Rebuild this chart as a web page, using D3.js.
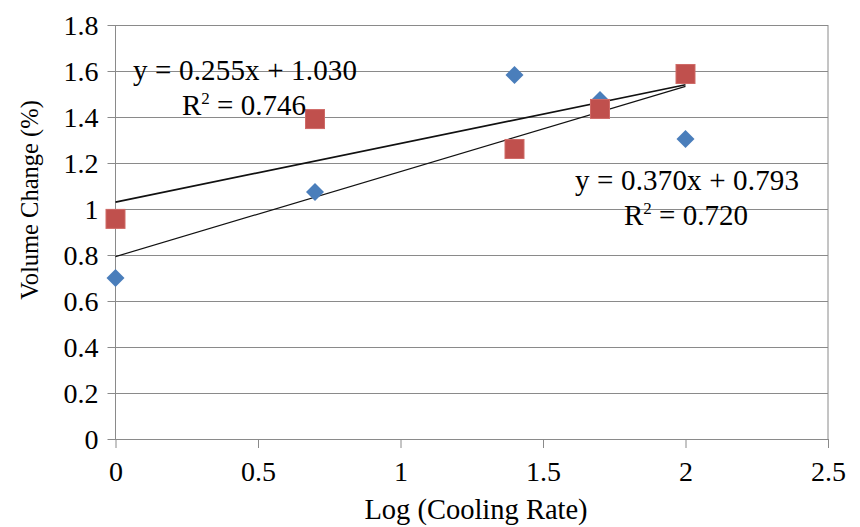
<!DOCTYPE html>
<html><head><meta charset="utf-8">
<script src="https://cdn.jsdelivr.net/npm/d3@7"></script>
<style>body{margin:0;background:#fff}svg{display:block}text{font-family:"Liberation Serif","Times New Roman",serif;fill:#000}</style>
</head><body><svg id="c" width="860" height="527" font-family="Liberation Serif, Times New Roman, serif"></svg>
<script>
const xValues = [0, 0.7, 1.4, 1.7, 2.0];
const blueValues = [0.70, 1.074, 1.583, 1.474, 1.304];
const redValues = [0.957, 1.391, 1.261, 1.435, 1.587];
const blueTrend = {slope: 0.370, intercept: 0.793, label1: "y = 0.370x + 0.793", label2: "= 0.720"};
const redTrend = {slope: 0.255, intercept: 1.030, label1: "y = 0.255x + 1.030", label2: "= 0.746"};
const xTicks = [0, 0.5, 1, 1.5, 2, 2.5];
const yTicks = [0, 0.2, 0.4, 0.6, 0.8, 1, 1.2, 1.4, 1.6, 1.8];

const svg = d3.select("#c");
const L = 115.5, R = 828, T = 25, B = 439;
const x = d3.scaleLinear().domain([0, 2.5]).range([L, R]);
const y = d3.scaleLinear().domain([0, 1.8]).range([B, T]);
const grid = "#8a8a8a";
const serif = "Liberation Serif, Times New Roman, serif";

// horizontal gridlines + y ticks
const yAxis = d3.axisLeft(y).tickValues(yTicks).tickSize(-(R - L)).tickSizeOuter(0)
  .tickFormat(d => String(+d.toFixed(1)));
const gy = svg.append("g").attr("transform", `translate(${L},0)`).call(yAxis).attr("font-family", serif);
gy.select(".domain").remove();
gy.selectAll(".tick line").attr("stroke", grid).attr("x1", -8);
gy.selectAll(".tick text").attr("x", -17).attr("font-size", 28).attr("dy", "0.34em");

// x axis
const xAxis = d3.axisBottom(x).tickValues(xTicks).tickSize(9).tickSizeOuter(0).tickFormat(d => String(d));
const gx = svg.append("g").attr("transform", `translate(0,${B})`).call(xAxis).attr("font-family", serif);
gx.select(".domain").attr("stroke", grid);
gx.selectAll(".tick line").attr("stroke", grid);
gx.selectAll(".tick text").attr("y", 42).attr("dy", 0).attr("font-size", 28);

// vertical axis line and right border
svg.append("line").attr("x1", L).attr("x2", L).attr("y1", T).attr("y2", B).attr("stroke", grid);
svg.append("line").attr("x1", R).attr("x2", R).attr("y1", T).attr("y2", B).attr("stroke", grid);

// trendlines
const xr = d3.extent(xValues);
[[redTrend, 1.6], [blueTrend, 1.2]].forEach(([t, w]) => {
  svg.append("line")
    .attr("x1", x(xr[0])).attr("y1", y(t.intercept + t.slope * xr[0]))
    .attr("x2", x(xr[1])).attr("y2", y(t.intercept + t.slope * xr[1]))
    .attr("stroke", "#111").attr("stroke-width", w);
});

// blue diamonds
const dia = "M0,-9L9,0L0,9L-9,0Z";
svg.append("g").selectAll("path").data(xValues).join("path")
  .attr("d", dia)
  .attr("transform", (d, i) => `translate(${x(d)},${y(blueValues[i])})`)
  .attr("fill", "#4a7ebb");
// red squares
svg.append("g").selectAll("rect").data(xValues).join("rect")
  .attr("x", d => x(d) - 9.5).attr("width", 19)
  .attr("y", (d, i) => y(redValues[i]) - 9.5).attr("height", 19)
  .attr("fill", "#c0504d").attr("stroke", "#cf6a67").attr("stroke-width", 1);

// equation labels
function eq(t, x1, yb1, x2, yb2) {
  svg.append("text").attr("x", x1).attr("y", yb1).attr("font-size", 29)
    .attr("textLength", 224).attr("lengthAdjust", "spacing").text(t.label1);
  const tx = svg.append("text").attr("x", x2).attr("y", yb2).attr("font-size", 29);
  tx.append("tspan").text("R");
  tx.append("tspan").attr("font-size", 17).attr("dy", -11).text("2");
  tx.append("tspan").attr("dy", 11).text(" " + t.label2);
}
eq(redTrend, 133, 80, 182, 115);
eq(blueTrend, 575, 190, 624, 225);

// axis titles
svg.append("text").attr("x", 476).attr("y", 519).attr("text-anchor", "middle").attr("font-size", 28.5).text("Log (Cooling Rate)");
svg.append("text").attr("transform", "translate(38,200) rotate(-90)").attr("text-anchor", "middle").attr("font-size", 24.5).text("Volume Change (%)");
</script></body></html>
